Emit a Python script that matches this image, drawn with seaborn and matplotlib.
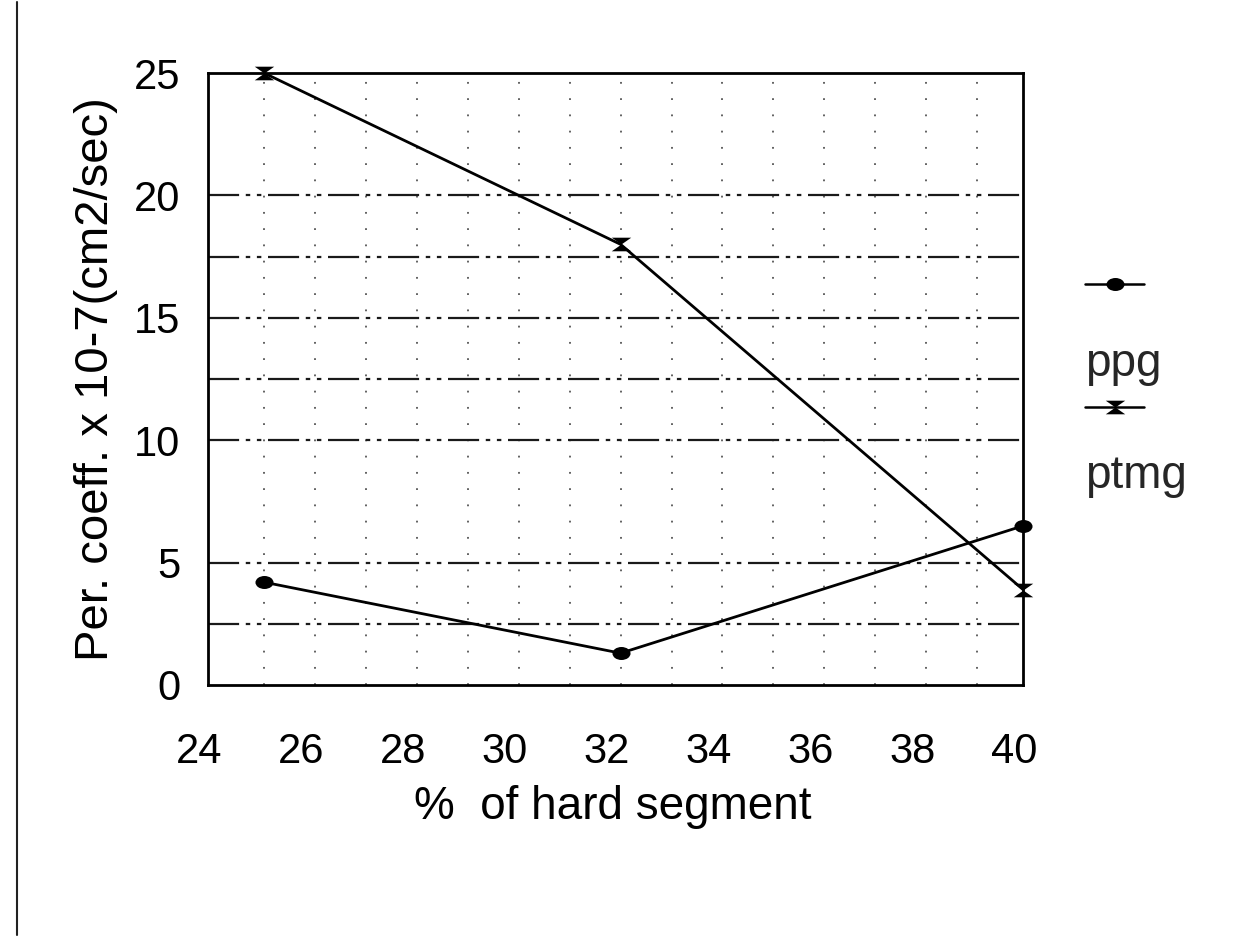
import numpy as np
import pandas as pd
import matplotlib
matplotlib.use("Agg")
import matplotlib.pyplot as plt
import matplotlib.transforms as mtransforms
from matplotlib.path import Path
from matplotlib.lines import Line2D
import seaborn as sns

# Permeation coefficient vs. hard-segment content
hard_segment = [25.1, 32.1, 40.0]
ppg_values = [4.2, 1.3, 6.5]
ptmg_values = [25.0, 18.0, 3.9]
series_names = ["ppg", "ptmg"]

x_ticks = [24, 26, 28, 30, 32, 34, 36, 38, 40]
y_ticks = [0, 5, 10, 15, 20, 25]
h_grid = [2.5, 5, 10, 12.5, 15, 17.5, 20]

df = pd.DataFrame({
    "hard": hard_segment * 2,
    "coef": ppg_values + ptmg_values,
    "series": [series_names[0]] * 3 + [series_names[1]] * 3,
})

sns.set_style("white")
plt.rcParams["font.family"] = ["Liberation Sans", "DejaVu Sans"]

# custom markers: flattened dot and hourglass
circ = Path.unit_circle()
ellipse = Path(circ.vertices * np.array([1.0, 0.72]), circ.codes)
hourglass = Path(
    [(-1, 0.7), (1, 0.7), (0, 0), (1, -0.7), (-1, -0.7), (0, 0), (-1, 0.7)],
    [Path.MOVETO, Path.LINETO, Path.LINETO, Path.LINETO, Path.LINETO, Path.LINETO, Path.CLOSEPOLY],
)
marker_for = {"ppg": (ellipse, 13), "ptmg": (hourglass, 14)}

W, H = 1240, 946
fig = plt.figure(figsize=(W / 100, H / 100), dpi=100)
ax = fig.add_axes([208 / W, 1 - 685 / H, (1023 - 208) / W, (685 - 73) / H])

ax.set_xlim(24, 40)
ax.set_ylim(0, 25)

# grid: sparse dotted verticals, dash-dot horizontals
for xv in np.arange(25.1, 39.2, 1.0):
    ax.axvline(xv, color="#555555", lw=1.3, ls=(0, (1, 8)), zorder=1)
for yv in h_grid:
    ax.axhline(yv, color="#1a1a1a", lw=1.6, ls=(0, (14, 3, 2, 3, 2, 3)), zorder=1)

for name in series_names:
    sub = df[df["series"] == name]
    mk, ms = marker_for[name]
    sns.lineplot(data=sub, x="hard", y="coef", ax=ax, color="black", lw=2.0,
                 marker=mk, markersize=ms, markeredgewidth=0, legend=False,
                 clip_on=False, zorder=3)

for side in ["left", "right", "top", "bottom"]:
    ax.spines[side].set_visible(True)
    ax.spines[side].set_color("black")
    ax.spines[side].set_linewidth(2.0)

ax.set_xticks(x_ticks)
ax.set_yticks(y_ticks)
ax.set_xticklabels([str(t) for t in x_ticks])
ax.set_yticklabels([str(t) for t in y_ticks])
ax.tick_params(axis="x", length=0, pad=34, labelsize=30, colors="black")
ax.tick_params(axis="y", direction="inout", length=12, width=1.5, pad=14,
               labelsize=30, colors="black")

shift = mtransforms.ScaledTranslation(-9 / 100, 0, fig.dpi_scale_trans)
for lab in ax.get_xticklabels():
    lab.set_transform(lab.get_transform() + shift)

ax.set_xlabel("%  of hard segment", fontsize=33, color="black")
ax.xaxis.set_label_coords(0.497, -0.163)
ax.set_ylabel("Per. coeff. x 10-7(cm2/sec)", fontsize=34, color="black")
ax.yaxis.set_label_coords(-0.11, 0.5)

# legend: handle above each label, to the right of the plot
def legend_entry(y_line, y_text, name):
    mk, ms = marker_for[name]
    fig.add_artist(Line2D([1085 / W, 1144 / W], [1 - y_line / H] * 2,
                          transform=fig.transFigure, color="black", lw=1.8))
    fig.add_artist(Line2D([1115 / W], [1 - y_line / H], transform=fig.transFigure,
                          color="black", marker=mk, markersize=ms, markeredgewidth=0,
                          lw=0))
    fig.text(1085 / W, 1 - y_text / H, name, fontsize=33, va="baseline", ha="left")

legend_entry(284, 376, "ppg")
legend_entry(407, 488, "ptmg")

# page edge on the left
fig.add_artist(Line2D([17 / W, 17 / W], [1 - 2 / H, 1 - 935 / H],
                      transform=fig.transFigure, color="#222222", lw=1.5))

fig.savefig("out.png", dpi=100, facecolor="white")
